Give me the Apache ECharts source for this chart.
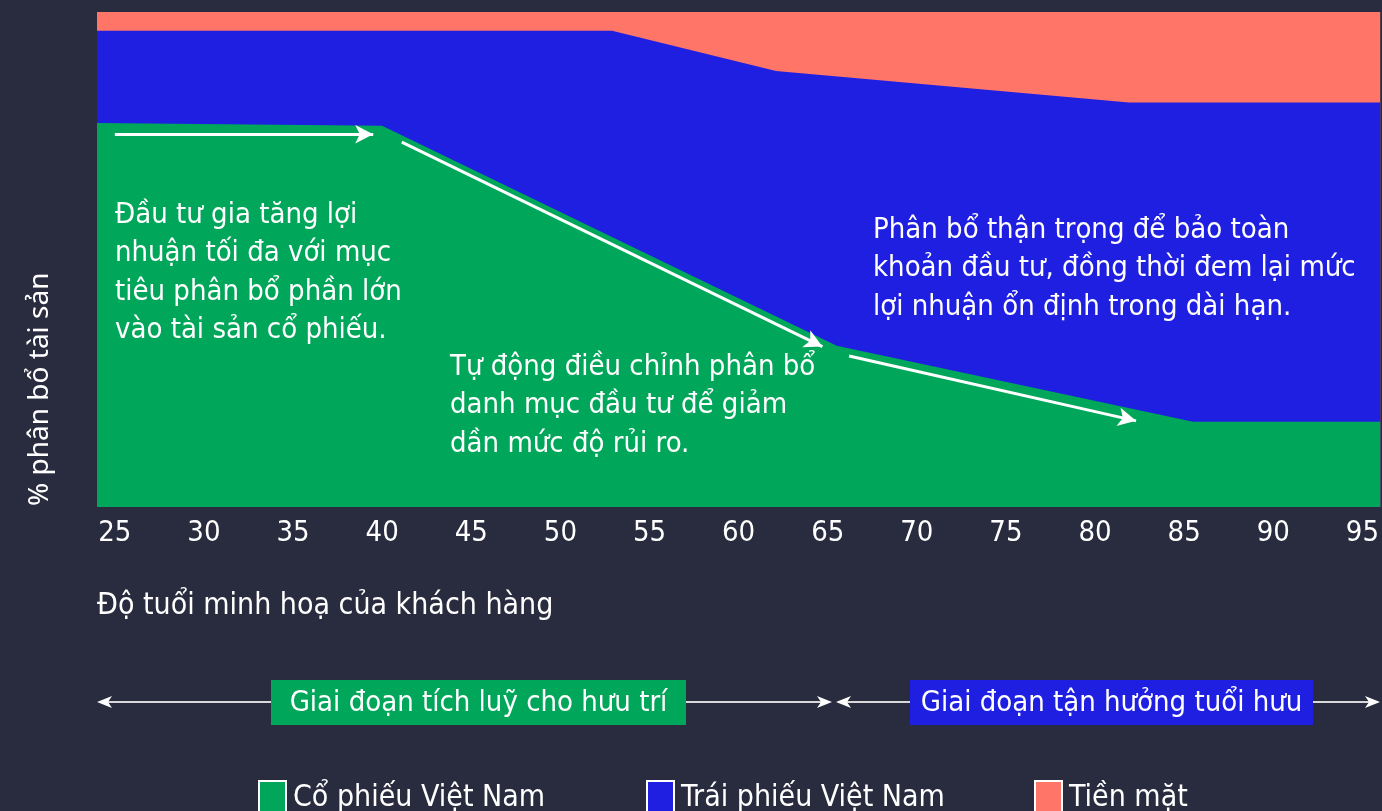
<!DOCTYPE html>
<html>
<head>
<meta charset="utf-8">
<title>Phân bổ tài sản theo độ tuổi</title>
<style>
  html, body { margin: 0; padding: 0; background: #292b3e; }
  #main { width: 1382px; height: 811px; }
</style>
<script src="https://cdn.jsdelivr.net/npm/echarts@6/dist/echarts.min.js"></script>
</head>
<body>
<div id="main"></div>
<script type="text/javascript">
// du lieu doc tu hinh (tuoi, % luy ke)
var ageMin = 24, ageMax = 96;
var tickAges = [25, 30, 35, 40, 45, 50, 55, 60, 65, 70, 75, 80, 85, 90, 95];

var stockAges = [24, 40, 65.5, 85.5, 96];
var stockPct = [77.6, 77.0, 32.6, 17.2, 17.2];

// duong bien tren cua trai phieu (co phieu + trai phieu)
var bondTopAges = [24, 52.9, 62.1, 81.9, 96];
var bondTopPct = [96.2, 96.2, 88.1, 81.7, 81.7];

var cashTopAges = [24, 96];
var cashTopPct = [100, 100];

var seriesNames = ['Cổ phiếu Việt Nam', 'Trái phiếu Việt Nam', 'Tiền mặt'];
var colors = ['#00a659', '#1f1fe2', '#ff7568'];

var FONT = '"Liberation Sans Narrow", "DejaVu Sans Condensed", Roboto, "Noto Sans", sans-serif';

function pairs(xs, ys) {
    var out = [];
    for (var i = 0; i < xs.length; i++) out.push([xs[i], ys[i]]);
    return out;
}

var myChart = echarts.init(document.getElementById('main'));

function areaSeries(name, color, data, z) {
    return {
        name: name,
        type: 'line',
        data: data,
        symbol: 'none',
        z: z,
        lineStyle: { width: 0 },
        itemStyle: { color: color, borderColor: '#ffffff', borderWidth: 2 },
        areaStyle: { color: color, opacity: 1 },
        emphasis: { disabled: true }
    };
}

var green = areaSeries(seriesNames[0], colors[0], pairs(stockAges, stockPct), 4);
green.markLine = {
    silent: true,
    symbol: ['none', 'arrow'],
    symbolSize: [14, 18],
    label: { show: false },
    lineStyle: { color: '#ffffff', width: 3, type: 'solid' },
    data: [
        [{ coord: [25.0, 75.3] }, { coord: [39.5, 75.3] }],
        [{ coord: [41.1, 73.7] }, { coord: [64.7, 32.4] }],
        [{ coord: [66.2, 30.5] }, { coord: [82.3, 17.4] }]
    ]
};

function legendAt(left, name) {
    return {
        data: [name],
        left: left,
        top: 780,
        padding: 0,
        itemWidth: 27,
        itemHeight: 34,
        icon: 'rect',
        itemStyle: { borderColor: '#ffffff', borderWidth: 2 },
        textStyle: { color: '#ffffff', fontSize: 30, fontFamily: FONT, padding: [6, 0, 0, 2] },
        selectedMode: false
    };
}

function note(x, y, lines) {
    return {
        type: 'text',
        left: x,
        top: y,
        z: 100,
        silent: true,
        style: {
            text: lines.join('\n'),
            fill: '#ffffff',
            font: '29px ' + FONT,
            lineHeight: 38.5
        }
    };
}

function arrowHead(x, y, dir) {
    // dir = 1 -> phai, -1 -> trai
    return {
        type: 'polygon',
        silent: true,
        shape: { points: [[x, y], [x - dir * 15, y - 6], [x - dir * 11, y], [x - dir * 15, y + 6]] },
        style: { fill: '#ffffff' }
    };
}

function phaseBox(x, w, color, text) {
    return {
        type: 'group',
        left: x,
        top: 680,
        silent: true,
        children: [
            { type: 'rect', shape: { x: 0, y: 0, width: w, height: 45 }, style: { fill: color } },
            {
                type: 'text',
                x: w / 2, y: 23,
                style: {
                    text: text, fill: '#ffffff', font: '29px ' + FONT,
                    align: 'center', verticalAlign: 'middle'
                }
            }
        ]
    };
}

var option = {
    backgroundColor: '#292b3e',
    animation: false,
    textStyle: { fontFamily: FONT },
    grid: { left: 97, right: 0, top: 12, bottom: 304, containLabel: false },
    legend: [
        legendAt(258, seriesNames[0]),
        legendAt(646, seriesNames[1]),
        legendAt(1034, seriesNames[2])
    ],
    xAxis: {
        type: 'value',
        min: ageMin,
        max: ageMax,
        axisLine: { show: false },
        axisTick: { show: false },
        splitLine: { show: false },
        axisLabel: {
            customValues: tickAges,
            color: '#ffffff',
            fontSize: 29,
            fontFamily: FONT,
            margin: 12
        }
    },
    yAxis: {
        type: 'value',
        min: 0,
        max: 100,
        axisLine: { show: false },
        axisTick: { show: false },
        splitLine: { show: false },
        axisLabel: { show: false }
    },
    series: [
        areaSeries(seriesNames[2], colors[2], pairs(cashTopAges, cashTopPct), 2),
        areaSeries(seriesNames[1], colors[1], pairs(bondTopAges, bondTopPct), 3),
        green
    ],
    graphic: [
        {
            type: 'text',
            x: 26, y: 506,
            rotation: Math.PI / 2,
            silent: true,
            style: {
                text: '% phân bổ tài sản',
                fill: '#ffffff',
                font: '28px "Noto Sans", sans-serif',
                align: 'left',
                verticalAlign: 'top'
            }
        },
        {
            type: 'text',
            left: 97, top: 591,
            silent: true,
            style: { text: 'Độ tuổi minh hoạ của khách hàng', fill: '#ffffff', font: '30px ' + FONT }
        },
        note(115, 196, ['Đầu tư gia tăng lợi', 'nhuận tối đa với mục', 'tiêu phân bổ phần lớn', 'vào tài sản cổ phiếu.']),
        note(450, 348, ['Tự động điều chỉnh phân bổ', 'danh mục đầu tư để giảm', 'dần mức độ rủi ro.']),
        note(873, 211, ['Phân bổ thận trọng để bảo toàn', 'khoản đầu tư, đồng thời đem lại mức', 'lợi nhuận ổn định trong dài hạn.']),
        // duong giai doan
        { type: 'line', silent: true, shape: { x1: 100, y1: 702, x2: 828, y2: 702 }, style: { stroke: '#d9d9d9', lineWidth: 2 } },
        { type: 'line', silent: true, shape: { x1: 838, y1: 702, x2: 1378, y2: 702 }, style: { stroke: '#d9d9d9', lineWidth: 2 } },
        arrowHead(97, 702, -1),
        arrowHead(832, 702, 1),
        arrowHead(836, 702, -1),
        arrowHead(1380, 702, 1),
        phaseBox(271, 415, colors[0], 'Giai đoạn tích luỹ cho hưu trí'),
        phaseBox(910, 403, colors[1], 'Giai đoạn tận hưởng tuổi hưu')
    ]
};

myChart.setOption(option);
</script>
</body>
</html>
